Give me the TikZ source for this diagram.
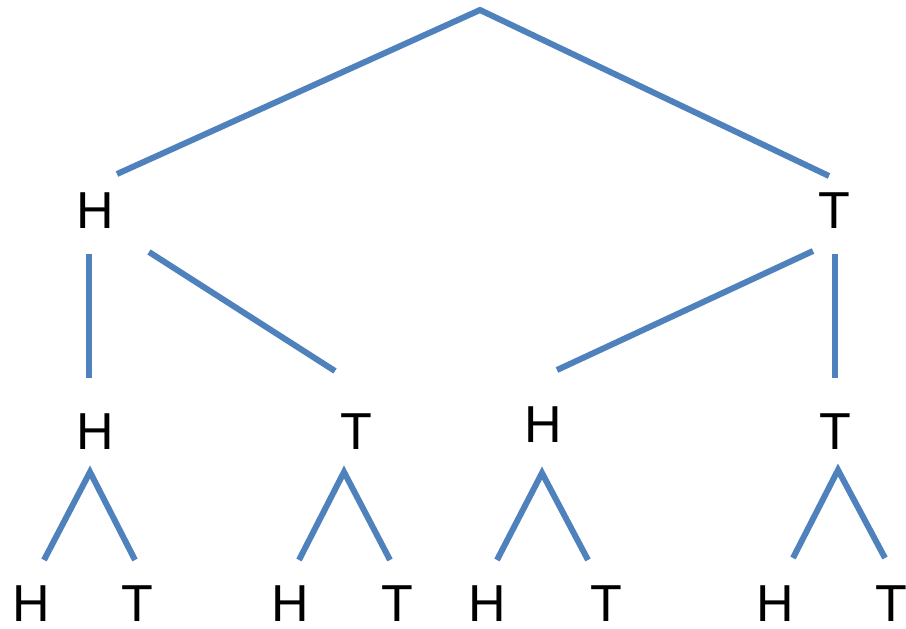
\documentclass[tikz,border=0pt]{standalone}
\usepackage{fontspec}
\setmainfont{Liberation Sans}
\definecolor{treeblue}{HTML}{4F81BD}
\tikzstyle{coin}=[inner sep=0pt, font=\fontsize{52}{60}\selectfont]
\tikzstyle{branch}=[draw=treeblue, line width=6pt]
\newcommand{\coin}{\node[coin]}
\begin{document}
\begin{tikzpicture}[x=1pt,y=-1pt]
\useasboundingbox (0,0) rectangle (906,629);
% first toss
\coordinate (root) at (480,10);
\coordinate (rl) at (117,174);
\coordinate (rr) at (829,176);
\draw[branch] (rl) -- (root) -- (rr);
\coin (h) at (95,211){H};
\coin (t) at (834,211){T};
% second toss
\coordinate (hv1) at (89,254);
\coordinate (hv2) at (89,378);
\coordinate (hd1) at (149,252);
\coordinate (hd2) at (335,371);
\coordinate (td1) at (813,251);
\coordinate (td2) at (557,370);
\coordinate (tv1) at (835,254);
\coordinate (tv2) at (835,378);
\draw[branch] (hv1) -- (hv2);
\draw[branch] (hd1) -- (hd2);
\draw[branch] (td1) -- (td2);
\draw[branch] (tv1) -- (tv2);
\coin (hh) at (95,432){H};
\coin (ht) at (356,432){T};
\coin (th) at (543,425){H};
\coin (tt) at (835,432){T};
% third toss
\foreach \i/\ax/\ay/\lx/\rx/\by in {1/90/472/44/135/560, 2/344/472/299/390/560,
	3/542/473/497/588/560, 4/838/470/793/885/558}{
	\coordinate (a\i) at (\ax,\ay);
	\coordinate (l\i) at (\lx,\by);
	\coordinate (r\i) at (\rx,\by);
	\draw[branch] (l\i) -- (a\i) -- (r\i);
	}
\foreach \i/\x/\s in {1/31/H, 2/137/T, 3/290/H, 4/397/T, 5/487/H, 6/606/T, 7/775/H, 8/891/T}{
	\coin (b\i) at (\x,604){\s};
	}
\end{tikzpicture}
\end{document}
